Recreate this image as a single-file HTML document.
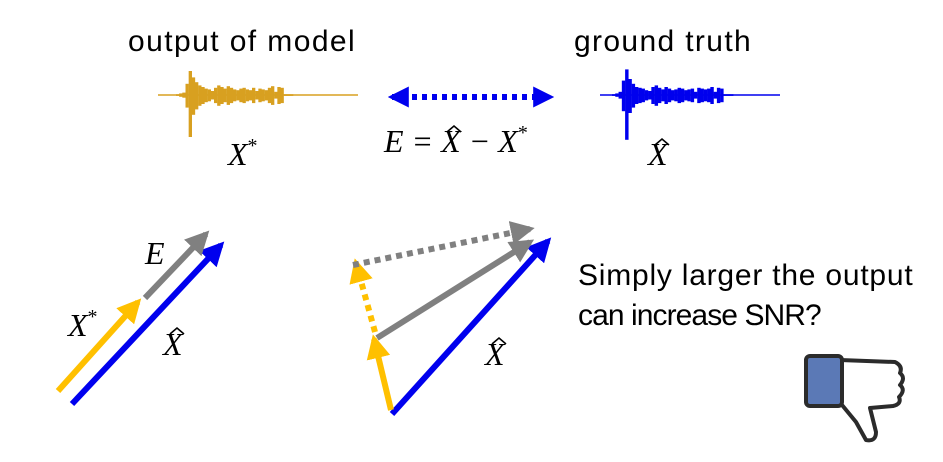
<!DOCTYPE html>
<html><head><meta charset="utf-8"><style>
body{margin:0;width:943px;height:462px;background:#fff;overflow:hidden}
svg{display:block}
.t{font-family:"Liberation Sans",sans-serif;font-size:30px;fill:#000;letter-spacing:0.3px}
.m{font-family:"Liberation Serif",serif;font-style:italic;font-size:32px;fill:#000}
.h{fill:none;stroke:#000;stroke-width:1.6}
</style></head><body>
<svg width="943" height="462" viewBox="0 0 943 462">
<defs>
<marker id="ab" viewBox="0 0 10 10" refX="8" refY="5" markerWidth="4" markerHeight="4" orient="auto"><path d="M0,0L10,5L0,10z" fill="#0000ee"/></marker>
<marker id="ao" viewBox="0 0 10 10" refX="8" refY="5" markerWidth="4" markerHeight="4" orient="auto"><path d="M0,0L10,5L0,10z" fill="#ffc000"/></marker>
<marker id="ag" viewBox="0 0 10 10" refX="8" refY="5" markerWidth="4" markerHeight="4" orient="auto"><path d="M0,0L10,5L0,10z" fill="#808080"/></marker>
<marker id="ad" viewBox="0 0 10 10" refX="8" refY="5" markerWidth="3.5" markerHeight="3.5" orient="auto-start-reverse"><path d="M0,0L10,5L0,10z" fill="#0000ee"/></marker>
</defs>
<text class="t" x="128" y="51" textLength="227">output of model</text>
<text class="t" x="574" y="51" textLength="177">ground truth</text>
<g id="wave1"></g>
<g id="wave2"></g>
<line x1="392" y1="97" x2="550" y2="97" stroke="#0000ee" stroke-width="6" stroke-dasharray="5,5" marker-start="url(#ad)" marker-end="url(#ad)"/>
<text class="m" x="228" y="165">X<tspan font-size="20" dy="-13" font-style="normal">*</tspan></text>
<text class="m" x="384" y="152">E = X − X<tspan font-size="20" dy="-13" font-style="normal">*</tspan></text>
<path class="h" d="M447,132 L454,126 L461,132"/>
<text class="m" x="648" y="165">X</text>
<path class="h" d="M655,145 L662,139 L669,145"/>
<!-- left vectors -->
<line x1="72" y1="404" x2="221" y2="245" stroke="#0000ee" stroke-width="6" marker-end="url(#ab)"/>
<line x1="58" y1="391" x2="138" y2="302" stroke="#ffc000" stroke-width="6" marker-end="url(#ao)"/>
<line x1="145" y1="298" x2="206" y2="234" stroke="#808080" stroke-width="6" marker-end="url(#ag)"/>
<text class="m" x="145" y="264">E</text>
<text class="m" x="68" y="336">X<tspan font-size="20" dy="-13" font-style="normal">*</tspan></text>
<text class="m" x="163" y="355">X</text>
<path class="h" d="M170,334 L177,328 L184,334"/>
<!-- middle vectors -->
<line x1="392" y1="414" x2="548" y2="241" stroke="#0000ee" stroke-width="6" marker-end="url(#ab)"/>
<line x1="391" y1="410" x2="374" y2="339" stroke="#ffc000" stroke-width="6" marker-end="url(#ao)"/>
<line x1="375" y1="332" x2="356" y2="263" stroke="#ffc000" stroke-width="6" stroke-dasharray="6,5" marker-end="url(#ao)"/>
<line x1="377" y1="338" x2="530" y2="242" stroke="#808080" stroke-width="6" marker-end="url(#ag)"/>
<line x1="353" y1="265" x2="530" y2="229" stroke="#808080" stroke-width="6" stroke-dasharray="6,5" marker-end="url(#ag)"/>
<text class="m" x="485" y="365">X</text>
<path class="h" d="M492,344 L499,338 L506,344"/>
<text class="t" x="578" y="285" textLength="335">Simply larger the output</text>
<text class="t" x="578" y="325" textLength="244">can increase SNR?</text>
<!-- thumbs down -->
<g stroke="#2b2b2b" stroke-width="4" stroke-linejoin="round">
<path d="M840,360 L895,362 Q903,366 900,373 Q906,378 900,385 Q906,390 899,397 Q902,404 893,406 L870,408 L876,432 Q876,442 866,440 L856,422 L842,405 L840,405 Z" fill="#fff"/>
<rect x="806" y="356" width="36" height="50" rx="4" fill="#5b79b6"/>
</g>
<script>
const envelope1=[1,2,3,14,30,22,16,12,10,8,7,5,9,12,10,8,11,9,7,6,8,9,7,6,9,5,8,7,6,9,11,4,10,9,1,1,1];
const envelope2=[1,2,4,18,32,20,14,10,9,8,6,5,10,12,9,7,10,8,6,7,9,8,6,7,8,4,9,8,7,8,10,4,9,8,1,1,1];
function draw(id,env,x0,x1,a0,a1,cy,color){
 const g=document.getElementById(id);
 const ns="http://www.w3.org/2000/svg";
 const base=document.createElementNS(ns,'line');
 
 
 base.setAttribute('x1',x0);base.setAttribute('x2',x1);base.setAttribute('y1',cy);base.setAttribute('y2',cy);
 base.setAttribute('stroke',color);base.setAttribute('stroke-width','1.5');g.appendChild(base);
 const step=(a1-a0)/(env.length-1);
 env.forEach((v,i)=>{
  const x=a0+i*step;
  const r=document.createElementNS(ns,'rect');
  
  
  r.setAttribute('x',x);r.setAttribute('width',step*1.05);
  r.setAttribute('y',cy-v*0.8);r.setAttribute('height',v*(i==4?2.2:1.7));
  r.setAttribute('fill',color);g.appendChild(r);
 });
}
draw('wave1',envelope1,158,358,176,290,95,'#d8a020');
draw('wave2',envelope2,600,780,612,730,95,'#0000ee');
</script>
</svg>
</body></html>
